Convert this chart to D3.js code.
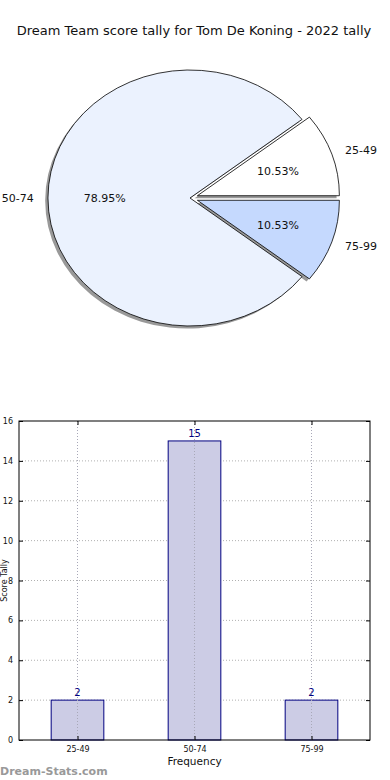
<!DOCTYPE html>
<html><head><meta charset="utf-8">
<script src="https://cdn.jsdelivr.net/npm/d3@7"></script>
<style>body{margin:0;background:#fff;}svg{display:block;font-family:"DejaVu Sans",sans-serif;}</style>
</head><body>
<script>
const title = "Dream Team score tally for Tom De Koning - 2022 tally";
const categories = ["25-49", "50-74", "75-99"];
const values = [2, 15, 2];
const explode = [0.055, 0, 0.055];
const pieColors = ["#ffffff", "#ebf2fe", "#c5d9fe"];
const yTicks = [0, 2, 4, 6, 8, 10, 12, 14, 16];
const xLabel = "Frequency";
const yLabel = "Score Tally";
const watermark = "Dream-Stats.com";

const W = 390, H = 780;
const svg = d3.select("body").append("svg").attr("width", W).attr("height", H);

svg.append("text").attr("x", 194).attr("y", 35).attr("text-anchor", "middle")
  .attr("font-size", 13).attr("fill", "#111").text(title);

// ---- Pie ----
const cx = 190, cy = 198, rx = 142, ry = 128;
const total = d3.sum(values);
let acc = 0;
const slices = values.map((v, i) => {
  const t1 = acc / total * 2 * Math.PI; acc += v;
  const t2 = acc / total * 2 * Math.PI;
  const mid = (t1 + t2) / 2;
  return {i, v, t1, t2, mid,
    ox: explode[i] * Math.cos(mid) * rx, oy: -explode[i] * Math.sin(mid) * ry};
});
const arc = d3.arc().innerRadius(0).outerRadius(1)
  .startAngle(d => Math.PI / 2 - d.t2).endAngle(d => Math.PI / 2 - d.t1);

const pieG = svg.append("g");
pieG.selectAll("path.shadow").data(slices).join("path")
  .attr("d", arc)
  .attr("transform", d => `translate(${cx + d.ox - 2.8},${cy + d.oy + 2.6}) scale(${rx},${ry})`)
  .attr("fill", "#000").attr("fill-opacity", 0.4);
pieG.selectAll("path.slice").data(slices).join("path")
  .attr("d", arc)
  .attr("transform", d => `translate(${cx + d.ox},${cy + d.oy}) scale(${rx},${ry})`)
  .attr("fill", d => pieColors[d.i]).attr("stroke", "#000").attr("stroke-width", 0.8)
  .attr("vector-effect", "non-scaling-stroke").attr("stroke-linejoin", "miter");

slices.forEach(d => {
  const c = Math.cos(d.mid), s = Math.sin(d.mid);
  const lx = cx + d.ox + 1.1 * rx * c, ly = cy + d.oy - 1.1 * ry * s;
  svg.append("text").attr("x", lx).attr("y", ly).attr("dy", "0.35em")
    .attr("text-anchor", c > 0.01 ? "start" : (c < -0.01 ? "end" : "middle"))
    .attr("font-size", 11).attr("fill", "#111").text(categories[d.i]);
  const px = cx + d.ox + 0.6 * rx * c, py = cy + d.oy - 0.6 * ry * s;
  svg.append("text").attr("x", px).attr("y", py).attr("dy", "0.35em")
    .attr("text-anchor", "middle").attr("font-size", 11).attr("fill", "#111")
    .text((d.v / total * 100).toFixed(2) + "%");
});

// ---- Bar chart ----
const L = 19, R = 370, T = 421, B = 740;
const x = d3.scalePoint().domain(categories).range([L, R]).padding(0.5);
const y = d3.scaleLinear().domain([0, 16]).range([B, T]);
const bw = x.step() * 0.45;
const g = svg.append("g");

g.selectAll("line.hg").data(yTicks.slice(1, -1)).join("line")
  .attr("x1", L).attr("x2", R).attr("y1", d => y(d)).attr("y2", d => y(d))
  .attr("stroke", "#b0b0b0").attr("stroke-dasharray", "1,2");
g.selectAll("line.vg").data(categories).join("line")
  .attr("x1", d => x(d)).attr("x2", d => x(d)).attr("y1", T).attr("y2", B)
  .attr("stroke", "#b0b0b0").attr("stroke-dasharray", "1,2");

g.selectAll("rect.bar").data(categories).join("rect")
  .attr("x", (d) => x(d) - bw / 2).attr("width", bw)
  .attr("y", (d, i) => y(values[i])).attr("height", (d, i) => B - y(values[i]))
  .attr("fill", "#ccccE5").attr("stroke", "#000080").attr("stroke-width", 1);
g.selectAll("line.vg2").data(categories).join("line")
  .attr("x1", d => x(d)).attr("x2", d => x(d)).attr("y1", T).attr("y2", B)
  .attr("stroke", "#a8a8b8").attr("stroke-dasharray", "1,2");

g.selectAll("text.val").data(categories).join("text")
  .attr("x", d => x(d)).attr("y", (d, i) => y(values[i]) - 4)
  .attr("text-anchor", "middle").attr("font-size", 10).attr("fill", "#000080")
  .text((d, i) => values[i]);

const yAxisL = d3.axisLeft(y).tickValues(yTicks).tickSize(-4).tickPadding(6);
const yAxisR = d3.axisRight(y).tickValues(yTicks).tickSize(-4).tickFormat("");
const xAxisB = d3.axisBottom(x).tickSize(-4).tickPadding(6);
const xAxisT = d3.axisTop(x).tickSize(-4).tickFormat("");
function style(sel) {
  sel.select(".domain").remove();
  sel.selectAll("line").attr("stroke", "#000");
  sel.selectAll("text").attr("font-size", 8).attr("fill", "#111").attr("font-family", "DejaVu Sans");
}
g.append("g").attr("transform", `translate(${L},0)`).call(yAxisL).call(style);
g.append("g").attr("transform", `translate(${R},0)`).call(yAxisR).call(style);
g.append("g").attr("transform", `translate(0,${B})`).call(xAxisB).call(style);
g.append("g").attr("transform", `translate(0,${T})`).call(xAxisT).call(style);
g.append("rect").attr("x", L).attr("y", T).attr("width", R - L).attr("height", B - T)
  .attr("fill", "none").attr("stroke", "#000").attr("stroke-width", 1);

svg.append("text").attr("x", (L + R) / 2).attr("y", 765).attr("text-anchor", "middle")
  .attr("font-size", 10.5).attr("fill", "#111").text(xLabel);
svg.append("text").attr("transform", `translate(7,${(T + B) / 2}) rotate(-90)`)
  .attr("text-anchor", "middle").attr("font-size", 8).attr("fill", "#111").text(yLabel);

svg.append("text").attr("x", 0).attr("y", 775).attr("font-size", 11).attr("font-weight", "bold")
  .attr("fill", "#999").text(watermark);
</script>
</body></html>
